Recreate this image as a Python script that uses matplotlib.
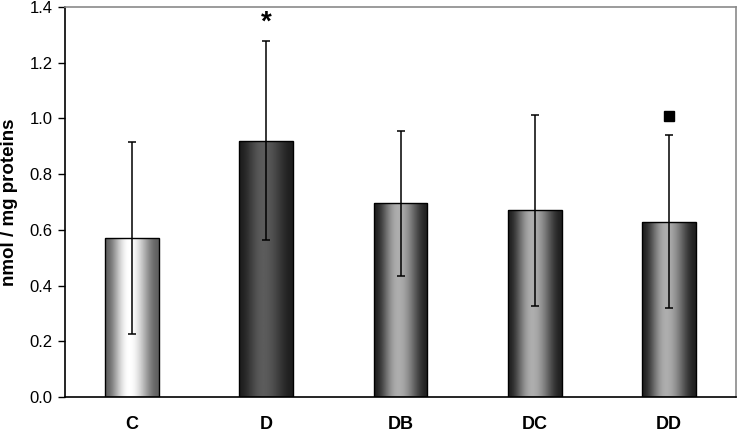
import numpy as np
import matplotlib
matplotlib.use("Agg")
import matplotlib.pyplot as plt

plt.rcParams["font.family"] = ["Liberation Sans", "DejaVu Sans"]

# Data
groups = ["C", "D", "DB", "DC", "DD"]
means = [0.57, 0.92, 0.695, 0.67, 0.63]
errors = [0.345, 0.357, 0.26, 0.343, 0.31]
# gradient shading per bar: (edge grey, centre grey)
shades = [(0.38, 1.0), (0.12, 0.36), (0.13, 0.68), (0.13, 0.68), (0.13, 0.68)]
# significance marks: (group index, y, symbol)
marks = [(1, 1.345, "*"), (4, 1.01, "s")]

fig = plt.figure(figsize=(7.4, 4.34), dpi=100)
ax = fig.add_axes([65 / 740, 1 - 397 / 434, 671 / 740, 390 / 434])

x = np.arange(len(groups))
bars = ax.bar(x, means, width=0.4, facecolor="none", edgecolor="black",
              linewidth=1.0, zorder=3)

# horizontal cylinder-like gradient, clipped to each bar
u = np.linspace(0, 1, 200)
peak = 0.45
d = np.where(u < peak, (peak - u) / peak, (u - peak) / (1 - peak))
profile = (1 - d ** 2) ** 2.2
for bar, (edge, centre) in zip(bars, shades):
    grey = edge + (centre - edge) * profile
    img = np.tile(grey, (2, 1))
    x0 = bar.get_x()
    w = bar.get_width()
    h = bar.get_height()
    im = ax.imshow(img, cmap="gray", vmin=0, vmax=1, aspect="auto",
                   extent=[x0, x0 + w, 0, h], interpolation="bilinear",
                   zorder=2)
    im.set_clip_path(bar)

ax.errorbar(x, means, yerr=errors, fmt="none", ecolor="black",
            elinewidth=1.1, capsize=3, capthick=1.1, zorder=4)

for i, y, sym in marks:
    if sym == "*":
        ax.text(x[i], y, "*", ha="center", va="center", fontsize=20,
                fontweight="bold", zorder=5)
    else:
        ax.plot(x[i], y, marker="s", color="black", markersize=6.5, zorder=5)

ax.set_xlim(-0.5, len(groups) - 0.5)
ax.set_ylim(0, 1.4)
ax.set_yticks(np.arange(0, 1.41, 0.2))
ax.set_yticklabels([f"{v:.1f}" for v in np.arange(0, 1.41, 0.2)], fontsize=12)
ax.set_xticks(x)
ax.set_xticklabels(groups, fontsize=13, fontweight="bold")
ax.tick_params(axis="x", length=0, pad=14)
ax.tick_params(axis="y", length=5, width=1, direction="out", pad=4)
ax.set_ylabel("nmol / mg proteins", fontsize=13.5, fontweight="bold", labelpad=8)

for s in ["left", "bottom"]:
    ax.spines[s].set_color("black")
    ax.spines[s].set_linewidth(1.2)
for s in ["top", "right"]:
    ax.spines[s].set_color("#8a8a8a")
    ax.spines[s].set_linewidth(1.2)

fig.savefig("out.png", dpi=100)
